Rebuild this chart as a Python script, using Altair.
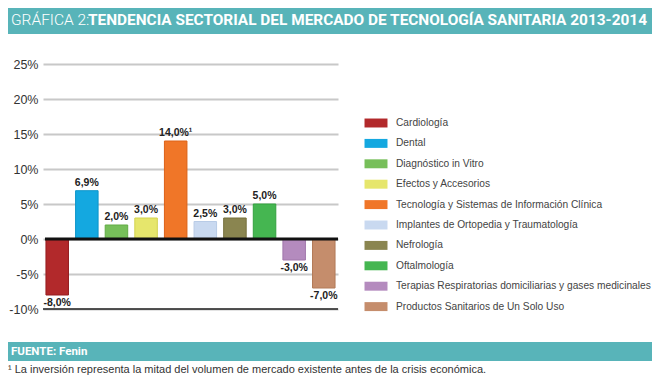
import altair as alt
import pandas as pd

categories = [
    "Cardiología",
    "Dental",
    "Diagnóstico in Vitro",
    "Efectos y Accesorios",
    "Tecnología y Sistemas de Información Clínica",
    "Implantes de Ortopedia y Traumatología",
    "Nefrología",
    "Oftalmología",
    "Terapias Respiratorias domiciliarias y gases medicinales",
    "Productos Sanitarios de Un Solo Uso",
]
values = [-8.0, 6.9, 2.0, 3.0, 14.0, 2.5, 3.0, 5.0, -3.0, -7.0]
labels = ["-8,0%", "6,9%", "2,0%", "3,0%", "14,0%¹", "2,5%", "3,0%", "5,0%", "-3,0%", "-7,0%"]
fill_colors = ["#b2292b", "#14a8e0", "#77bf5a", "#e6e66c", "#f07628",
               "#c9d9f0", "#8a8550", "#45b651", "#b48bbe", "#c58d6c"]
stroke_colors = ["#951d20", "#0e95c9", "#62ab45", "#d2d24f", "#dc6218",
                 "#b8cbe6", "#75703c", "#33a13f", "#a177ab", "#b27a58"]
y_ticks = [-10, -5, 0, 5, 10, 15, 20, 25]

title_light = "GRÁFICA 2:"
title_bold = "TENDENCIA SECTORIAL DEL MERCADO DE TECNOLOGÍA SANITARIA 2013-2014"
source_text = "FUENTE: Fenin"
footnote_text = "¹ La inversión representa la mitad del volumen de mercado existente antes de la crisis económica."

df = pd.DataFrame({"cat": categories, "value": values, "label": labels})
one = pd.DataFrame({"k": [0]})

W, H = 295, 245
TEAL = "#58b4b9"
FONT = "Liberation Sans"

yscale = alt.Scale(domain=[-10, 25], nice=False, zero=False)
yaxis = alt.Axis(
    values=y_ticks, labelExpr="datum.value + '%'", grid=True,
    gridColor="#c8c8c8", gridWidth=2,
    domain=False, ticks=False, labelPadding=5, labelFontSize=12.5, labelColor="#333333",
    labelFont=FONT, title=None,
)


def ycol(field):
    return alt.Y(f"{field}:Q", scale=yscale, axis=yaxis)


xenc = alt.X("cat:N", sort=categories, axis=None,
             scale=alt.Scale(paddingInner=0.24, paddingOuter=0.1))

bars = alt.Chart(df).mark_bar(strokeWidth=1).encode(
    x=xenc,
    y=ycol("value"),
    color=alt.Color(
        "cat:N",
        sort=categories,
        scale=alt.Scale(domain=categories, range=fill_colors),
        legend=alt.Legend(
            orient="none", legendX=327, legendY=53, title=None,
            symbolType="M-2,-0.78H2V0.78H-2Z", symbolSize=132,
            symbolStrokeWidth=0, symbolOpacity=1,
            labelFontSize=10.2, labelFont=FONT, labelColor="#444444",
            labelOffset=14, rowPadding=8.4, padding=0, labelLimit=400,
        ),
    ),
    stroke=alt.Stroke("cat:N", sort=categories,
                      scale=alt.Scale(domain=categories, range=stroke_colors), legend=None),
)

zero_rule = alt.Chart(one).mark_rule(color="#111111", strokeWidth=3).encode(
    y=alt.datum(0, scale=yscale, axis=yaxis), x=alt.value(2), x2=alt.value(W)
)
bottom_rule = alt.Chart(one).mark_rule(color="#222222", strokeWidth=1.3).encode(
    y=alt.datum(-10, scale=yscale, axis=yaxis), x=alt.value(0), x2=alt.value(W)
)

pos_labels = alt.Chart(df).transform_filter("datum.value >= 0").mark_text(
    baseline="bottom", dy=-3, fontSize=10.5, fontWeight="bold", font=FONT, color="#222222"
).encode(x=xenc, y=ycol("value"), text="label:N")

neg_labels = alt.Chart(df).transform_filter("datum.value < 0").mark_text(
    baseline="top", dy=3, fontSize=10.5, fontWeight="bold", font=FONT, color="#222222"
).encode(x=xenc, y=ycol("value"), text="label:N")

banner = alt.Chart(one).mark_rect(color=TEAL).encode(
    x=alt.value(-35), x2=alt.value(609), y=alt.value(-56), y2=alt.value(-30)
)
t_light = alt.Chart(one).mark_text(
    text=title_light, align="left", baseline="middle", font="Roboto", fontWeight=300,
    fontSize=15.5, color="white"
).encode(x=alt.value(-32), y=alt.value(-44))
t_bold = alt.Chart(one).mark_text(
    text=title_bold, align="left", baseline="middle", font="Roboto", fontWeight="bold",
    fontSize=15.4, color="white"
).encode(x=alt.value(45), y=alt.value(-44))

footer = alt.Chart(one).mark_rect(color=TEAL).encode(
    x=alt.value(-35), x2=alt.value(609), y=alt.value(278), y2=alt.value(297)
)
f_text = alt.Chart(one).mark_text(
    text=source_text, align="left", baseline="middle", font="Roboto", fontWeight="bold",
    fontSize=11.5, color="white"
).encode(x=alt.value(-32), y=alt.value(288))
note = alt.Chart(one).mark_text(
    text=footnote_text, align="left", baseline="middle", font=FONT,
    fontSize=11, color="#333333"
).encode(x=alt.value(-35), y=alt.value(306))

chart = alt.layer(
    bars, zero_rule, bottom_rule, pos_labels, neg_labels,
    banner, t_light, t_bold, footer, f_text, note
).properties(
    width=W, height=H,
    autosize=alt.AutoSizeParams(type="none"),
    padding={"left": 35, "top": 56, "right": 314, "bottom": 68},
).configure(background="white").configure_view(stroke=None)

chart.save("out.html", embed_options={"renderer": "svg", "actions": False})
